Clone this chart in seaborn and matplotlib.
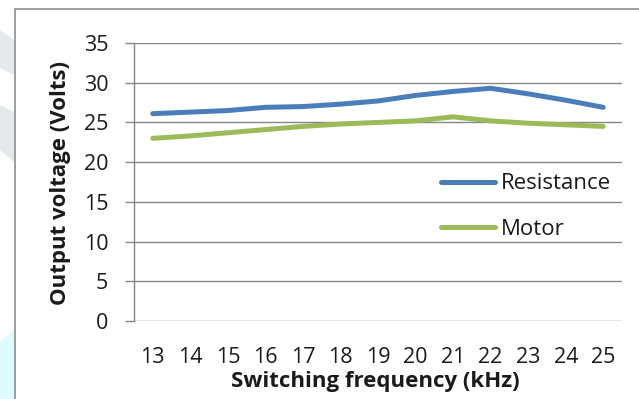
import matplotlib
matplotlib.use("Agg")
import matplotlib.pyplot as plt
from matplotlib.patches import Polygon, Rectangle
import pandas as pd
import seaborn as sns

# Switching frequency (kHz) and measured output voltage (V)
frequency_khz = [13, 14, 15, 16, 17, 18, 19, 20, 21, 22, 23, 24, 25]
resistance_v = [26.1, 26.3, 26.5, 26.9, 27.0, 27.3, 27.7, 28.4, 28.9, 29.3, 28.6, 27.8, 26.9]
motor_v = [23.0, 23.3, 23.7, 24.1, 24.5, 24.8, 25.0, 25.2, 25.7, 25.2, 24.9, 24.7, 24.5]
series_names = ["Resistance", "Motor"]
series_colors = ["#4a7ebb", "#9bbb59"]
y_ticks = [0, 5, 10, 15, 20, 25, 30, 35]

df = pd.concat([
    pd.DataFrame({"freq": frequency_khz, "volts": resistance_v, "load": series_names[0]}),
    pd.DataFrame({"freq": frequency_khz, "volts": motor_v, "load": series_names[1]}),
])

sns.set_theme(style="white")
plt.rcParams["font.family"] = ["Open Sans", "DejaVu Sans"]

W, H = 639, 399
fig = plt.figure(figsize=(W / 100, H / 100), dpi=100)
fig.patch.set_facecolor("white")

# faint page decoration on the left margin
def fig_poly(pts, color):
    fig.patches.append(Polygon([(x / W, 1 - y / H) for x, y in pts], closed=True,
                               transform=fig.transFigure, facecolor=color,
                               edgecolor="none", zorder=0))

fig_poly([(0, 30), (14, 40), (14, 75), (0, 68)], "#e4e9eb")
fig_poly([(0, 105), (14, 112), (14, 162), (0, 150)], "#e4e9eb")
fig_poly([(0, 342), (15, 328), (15, 399), (0, 399)], "#dcfbfd")

# chart frame
fig.patches.append(Rectangle((15 / W, -0.1), 1.2, 1 - 9 / H + 0.1,
                             transform=fig.transFigure, facecolor="none",
                             edgecolor="#8c8c8c", linewidth=1.2, zorder=1))

left, right, top, bottom = 134, 622, 43, 321
ax = fig.add_axes([left / W, 1 - bottom / H, (right - left) / W, (bottom - top) / H])
ax.set_facecolor("none")

sns.lineplot(data=df, x="freq", y="volts", hue="load", hue_order=series_names,
             palette=series_colors, linewidth=3.6, ax=ax, legend=True,
             solid_capstyle="round")

ax.set_xlim(12.5, 25.5)
ax.set_ylim(0, 35)
ax.set_yticks(y_ticks)
ax.set_xticks(frequency_khz)
ax.set_xticklabels([str(f) for f in frequency_khz])

grid_c = "#868686"
for yv in y_ticks:
    ax.axhline(yv, color=grid_c, linewidth=1.0, zorder=0.5)
for side in ["top", "right", "bottom"]:
    ax.spines[side].set_visible(False)
ax.spines["left"].set_color(grid_c)
ax.spines["left"].set_linewidth(1.0)

ax.tick_params(axis="y", which="major", left=True, length=6.5, width=1.0,
               color=grid_c, pad=12, labelsize=15.5, labelcolor="#1a1a1a")
ax.tick_params(axis="x", which="major", bottom=False, length=0, pad=19,
               labelsize=15.5, labelcolor="#1a1a1a")

ax.set_xlabel("Switching frequency (kHz)", fontsize=16, fontweight="bold", color="#1a1a1a")
ax.set_ylabel("Output voltage (Volts)", fontsize=16, fontweight="bold", color="#1a1a1a")
ax.xaxis.set_label_coords(0.495, -0.18)
ax.yaxis.set_label_coords(-0.13, 0.495)

handles, labels = ax.get_legend_handles_labels()
leg = ax.legend(handles, labels, loc="center left",
                bbox_to_anchor=(441 / W, 1 - 206.5 / H), bbox_transform=fig.transFigure,
                frameon=False, fontsize=16, handlelength=2.45, handletextpad=0.25,
                labelspacing=1.1, borderpad=0, borderaxespad=0)
for line in leg.get_lines():
    line.set_linewidth(3.6)
    line.set_solid_capstyle("round")
for t in leg.get_texts():
    t.set_color("#1a1a1a")

fig.savefig("out.png", dpi=100, facecolor="white")
